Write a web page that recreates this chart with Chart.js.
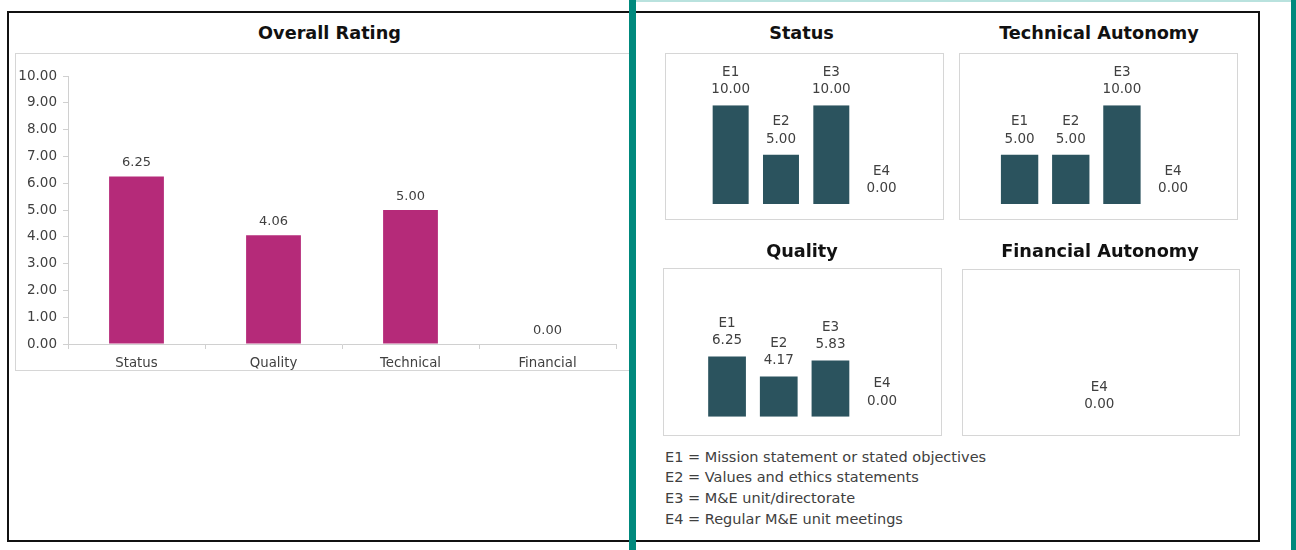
<!DOCTYPE html>
<html>
<head>
<meta charset="utf-8">
<script src="https://cdn.jsdelivr.net/npm/chart.js@4.4.1/dist/chart.umd.min.js"></script>
<style>
  html, body { margin: 0; padding: 0; background: #fff; }
  body { width: 1296px; height: 550px; position: relative; overflow: hidden; font-family: "DejaVu Sans", sans-serif; }
  .abs { position: absolute; }
  .frame { position: absolute; box-sizing: border-box; border: 1px solid #d6d6d6; background: #fff; }
  .title { position: absolute; width: 400px; text-align: center; font-weight: bold; font-size: 17.7px; line-height: 22px; color: #111; }
  canvas { position: absolute; }
  #legend { position: absolute; left: 665px; top: 446.5px; font-size: 14.5px; line-height: 20.9px; color: #404040; white-space: nowrap; }
</style>
</head>
<body>
<div class="abs" style="left:7px;top:11px;width:1253px;height:531px;box-sizing:border-box;border:2px solid #111;"></div>

<div class="frame" style="left:15px;top:53px;width:618px;height:318px;"></div>
<canvas id="overall" width="614" height="319" style="left:16px;top:54px;"></canvas>

<div class="frame" style="left:665px;top:53px;width:279px;height:167px;"></div>
<canvas id="status" width="277" height="165" style="left:666px;top:54px;"></canvas>
<div class="frame" style="left:959px;top:53px;width:279px;height:167px;"></div>
<canvas id="technical" width="277" height="165" style="left:960px;top:54px;"></canvas>
<div class="frame" style="left:663px;top:268px;width:279px;height:168px;"></div>
<canvas id="quality" width="277" height="166" style="left:664px;top:269px;"></canvas>
<div class="frame" style="left:962px;top:269px;width:278px;height:167px;"></div>
<canvas id="financial" width="276" height="165" style="left:963px;top:270px;"></canvas>

<div class="title" style="left:129.5px;top:22px;">Overall Rating</div>
<div class="title" style="left:601.5px;top:22px;">Status</div>
<div class="title" style="left:899px;top:22px;">Technical Autonomy</div>
<div class="title" style="left:602px;top:240px;">Quality</div>
<div class="title" style="left:900px;top:240px;">Financial Autonomy</div>

<div id="legend"></div>

<div class="abs" style="left:636px;top:0;width:655px;height:2px;background:#b9e2de;"></div>
<div class="abs" style="left:629px;top:0;width:7px;height:550px;background:#00897d;"></div>
<div class="abs" style="left:1291px;top:0;width:5px;height:550px;background:#00897d;"></div>

<script>
// ---- data ----
const overallCategories = ['Status', 'Quality', 'Technical', 'Financial'];
const overallValues = [6.25, 4.06, 5.00, 0.00];
const yTickMin = 0;
const yTickMax = 10;
const yTickStep = 1;

const elementLabels = ['E1', 'E2', 'E3', 'E4'];
const statusValues = [10.00, 5.00, 10.00, 0.00];
const technicalValues = [5.00, 5.00, 10.00, 0.00];
const qualityValues = [6.25, 4.17, 5.83, 0.00];
const financialLabels = ['E4'];
const financialValues = [0.00];

const legendLines = [
  'E1 = Mission statement or stated objectives',
  'E2 = Values and ethics statements',
  'E3 = M&E unit/directorate',
  'E4 = Regular M&E unit meetings'
];

// ---- styles ----
const MAGENTA = '#b52a79';
const DARK_TEAL = '#2b535e';
const TEXT = '#404040';
const AXIS = '#d0d0d0';
const FONT = "'DejaVu Sans', sans-serif";

document.getElementById('legend').innerHTML = legendLines
  .map(s => '<div>' + s.replace(/&/g, '&amp;') + '</div>').join('');

// value labels drawn above bars
const barLabels = {
  id: 'barLabels',
  afterDatasetsDraw(chart, args, opts) {
    const ctx = chart.ctx;
    ctx.save();
    ctx.fillStyle = TEXT;
    ctx.font = (opts.withName ? '13.5px ' : '13px ') + FONT;
    ctx.textAlign = 'center';
    ctx.textBaseline = 'middle';
    const ds = chart.data.datasets[0];
    chart.getDatasetMeta(0).data.forEach((bar, i) => {
      const v = ds.data[i];
      const top = Math.min(bar.y, bar.base);
      const txt = Number(v).toFixed(2);
      if (opts.withName) {
        ctx.fillText(txt, bar.x, top - 15.5);
        ctx.fillText(chart.data.labels[i], bar.x, top - 33);
      } else {
        ctx.fillText(txt, bar.x, top - 13.5);
      }
    });
    ctx.restore();
  }
};

Chart.defaults.font.family = FONT;
Chart.defaults.color = TEXT;

new Chart(document.getElementById('overall'), {
  type: 'bar',
  data: {
    labels: overallCategories,
    datasets: [{ data: overallValues, backgroundColor: MAGENTA, barPercentage: 0.4, categoryPercentage: 1 }]
  },
  options: {
    responsive: false,
    animation: false,
    devicePixelRatio: 1,
    layout: { padding: { top: 22, right: 14, left: 0, bottom: 0 } },
    plugins: { legend: { display: false }, tooltip: { enabled: false }, title: { display: false }, barLabels: { withName: false } },
    scales: {
      x: {
        offset: true,
        grid: { offset: true, drawOnChartArea: false, drawTicks: true, tickLength: 5, color: AXIS },
        border: { color: AXIS },
        ticks: { font: { size: 13.3 }, color: TEXT, padding: 7, maxRotation: 0 },
        afterFit(scale) { scale.height = 29; }
      },
      y: {
        min: yTickMin, max: yTickMax,
        grid: { drawOnChartArea: false, drawTicks: true, tickLength: 5, color: AXIS },
        border: { color: AXIS },
        ticks: { stepSize: yTickStep, font: { size: 13.5 }, color: TEXT, padding: 6, callback: v => Number(v).toFixed(2) },
        afterFit(scale) { scale.width = 52; }
      }
    }
  },
  plugins: [barLabels]
});

function panel(id, labels, values, padding, barPct) {
  new Chart(document.getElementById(id), {
    type: 'bar',
    data: {
      labels: labels,
      datasets: [{ data: values, backgroundColor: DARK_TEAL, barPercentage: barPct, categoryPercentage: 1 }]
    },
    options: {
      responsive: false,
      animation: false,
      devicePixelRatio: 1,
      layout: { padding: padding },
      plugins: { legend: { display: false }, tooltip: { enabled: false }, title: { display: false }, barLabels: { withName: true } },
      scales: {
        x: { display: false, offset: true },
        y: { display: false, min: 0, max: 10 }
      }
    },
    plugins: [barLabels]
  });
}

panel('status', elementLabels, statusValues, { left: 39.5, right: 36.2, top: 51.3, bottom: 15 }, 0.715);
panel('technical', elementLabels, technicalValues, { left: 34, right: 38.3, top: 51.3, bottom: 15 }, 0.73);
panel('quality', elementLabels, qualityValues, { left: 37.2, right: 33, top: 51.2, bottom: 18.3 }, 0.73);
panel('financial', financialLabels, financialValues, { left: 110.8, right: 114.2, top: 53.5, bottom: 15 }, 0.73);
</script>
</body>
</html>
